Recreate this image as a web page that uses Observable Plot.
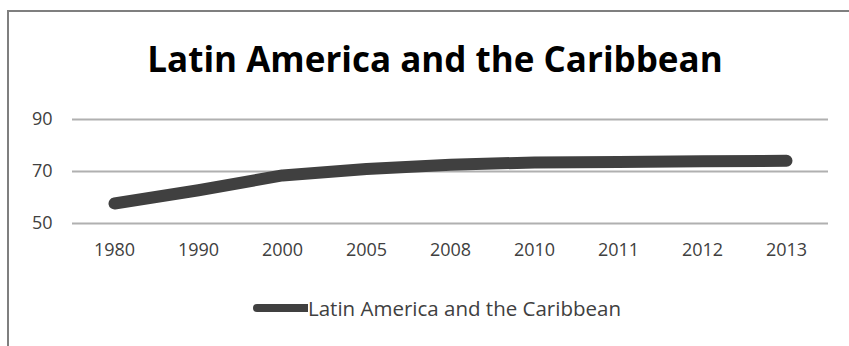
<!DOCTYPE html>
<html>
<head>
<meta charset="utf-8">
<script src="https://cdn.jsdelivr.net/npm/d3@7"></script>
<script src="https://cdn.jsdelivr.net/npm/@observablehq/plot@0.6"></script>
<style>
  html, body { margin: 0; padding: 0; background: #fff; }
  body { width: 849px; height: 346px; position: relative; overflow: hidden; font-family: "Open Sans", Lato, sans-serif; }
  #frame { position: absolute; left: 7px; top: 10px; width: 860px; height: 360px; border-top: 2px solid #7f7f7f; border-left: 2px solid #7f7f7f; box-sizing: border-box; }
  #title { position: absolute; left: 0; width: 870px; top: 36px; text-align: center; font-weight: bold; font-size: 35px; color: #000; line-height: 46px; }
  #chart { position: absolute; left: 0; top: 100px; }
  #legend { position: absolute; left: 253px; top: 294px; display: flex; align-items: center; font-size: 20.5px; color: #404040; white-space: nowrap; line-height: 28px; }
  #legend svg { display: block; }
</style>
</head>
<body>
<div id="frame"></div>
<div id="title">Latin America and the Caribbean</div>
<div id="chart"></div>
<div id="legend"></div>
<script>
const seriesName = "Latin America and the Caribbean";
const years = ["1980", "1990", "2000", "2005", "2008", "2010", "2011", "2012", "2013"];
const values = [57.7, 62.8, 68.5, 71.0, 72.6, 73.5, 73.7, 73.9, 74.1];
const yTicks = [50, 70, 90];

const data = years.map((y, i) => ({year: y, value: values[i]}));

const chart = Plot.plot({
  width: 849,
  height: 165,
  marginLeft: 72,
  marginRight: 21,
  marginTop: 19,
  marginBottom: 42,
  style: {fontFamily: "'Open Sans', Lato, sans-serif", fontSize: "18px", color: "#404040", background: "transparent"},
  x: {type: "point", domain: years, padding: 0.5, label: null},
  y: {domain: [50, 90], ticks: yTicks, label: null},
  marks: [
    Plot.gridY(yTicks, {stroke: "#b0b0b0", strokeOpacity: 1, strokeWidth: 1.8}),
    Plot.axisY({ticks: yTicks, tickSize: 0, tickPadding: 20, label: null, fontSize: 18}),
    Plot.axisX({tickSize: 0, tickPadding: 20, label: null, fontSize: 18}),
    Plot.line(data, {x: "year", y: "value", stroke: "#404040", strokeWidth: 12, strokeLinecap: "round", strokeLinejoin: "round"})
  ]
});
document.getElementById("chart").appendChild(chart);

const legend = document.getElementById("legend");
const sw = d3.create("svg").attr("width", 55).attr("height", 12);
sw.append("line").attr("x1", 4).attr("x2", 55).attr("y1", 6).attr("y2", 6)
  .attr("stroke", "#404040").attr("stroke-width", 8).attr("stroke-linecap", "round");
legend.appendChild(sw.node());
const lt = document.createElement("span");
lt.textContent = seriesName;
legend.appendChild(lt);
</script>
</body>
</html>
